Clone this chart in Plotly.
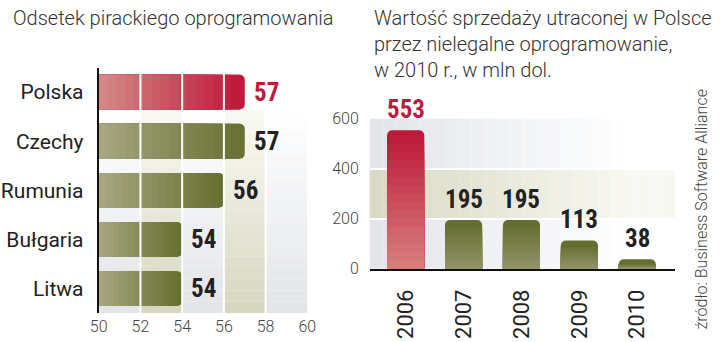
import plotly.graph_objects as go

# ---------------- data ----------------
countries = ["Polska", "Czechy", "Rumunia", "Bułgaria", "Litwa"]
piracy_pct = [57, 57, 56, 54, 54]
x_ticks = [50, 52, 54, 56, 58, 60]

years = ["2006", "2007", "2008", "2009", "2010"]
loss_musd = [553, 195, 195, 113, 38]
y_ticks = [0, 200, 400, 600]

title_left = "Odsetek pirackiego oprogramowania"
title_right = "Wartość sprzedaży utraconej w Polsce<br>przez nielegalne oprogramowanie,<br>w 2010 r., w mln dol."
source = "źródło: Business Software Alliance"

# ---------------- style ----------------
W, H = 720, 342
RED_LIGHT, RED_DARK = (212, 140, 136), (190, 24, 58)
OL_LIGHT, OL_DARK = (168, 168, 130), (104, 112, 50)
RED_LIGHT_V, RED_DARK_V = (216, 128, 128), (190, 24, 58)
OL_LIGHT_V, OL_DARK_V = (148, 148, 106), (100, 110, 48)
TXT = "#222222"
FONT = "Roboto, Open Sans, sans-serif"
NUMFONT = "Liberation Sans Narrow, Roboto Condensed, DejaVu Sans Condensed, Roboto, sans-serif"
NSEG = 16
RADIUS = 5


def lerp(c1, c2, t):
    return "rgb(%d,%d,%d)" % tuple(round(a + (b - a) * t) for a, b in zip(c1, c2))


def px_x(p):
    return p / W


def px_y(p):
    return 1 - p / H


# domains (pixels)
LX0, LX1, LY0, LY1 = 92, 306, 62, 322
RX0, RX1, RY0, RY1 = 370, 683, 116, 275
# size of the rounded end in data units (so the gradient does not hide the rounding)
r_left = RADIUS * (x_ticks[-1] - x_ticks[0]) / (LX1 - LX0)
r_right = RADIUS * (y_ticks[-1] - y_ticks[0]) / (RY1 - RY0)

fig = go.Figure()
axis_min = x_ticks[0]

# ---------- left chart: horizontal bars, gradient by overlaid shorter bars ----------
fig.add_trace(go.Bar(
    y=countries, x=[v - axis_min for v in piracy_pct], base=axis_min, orientation="h",
    xaxis="x", yaxis="y", width=0.71,
    marker=dict(color=[lerp(*((RED_LIGHT, RED_DARK) if c == "Polska" else (OL_LIGHT, OL_DARK)), 1.0)
                       for c in countries], line=dict(width=0), cornerradius=RADIUS),
    hoverinfo="skip", showlegend=False,
))
for k in range(NSEG):
    frac = (NSEG - k) / NSEG
    t = (NSEG - k - 0.5) / NSEG
    lens, cols = [], []
    for c, v in zip(countries, piracy_pct):
        lens.append((v - axis_min - r_left) * frac)
        lo, hi = (RED_LIGHT, RED_DARK) if c == "Polska" else (OL_LIGHT, OL_DARK)
        cols.append(lerp(lo, hi, t))
    fig.add_trace(go.Bar(
        y=countries, x=lens, base=axis_min, orientation="h", xaxis="x", yaxis="y",
        width=0.71, marker=dict(color=cols, line=dict(width=0), cornerradius=0),
        hoverinfo="skip", showlegend=False,
    ))

# ---------- right chart: vertical bars with gradient ----------
fig.add_trace(go.Bar(
    x=years, y=loss_musd, xaxis="x2", yaxis="y2", width=0.64,
    marker=dict(color=[lerp(*((RED_LIGHT_V, RED_DARK_V) if i == 0 else (OL_LIGHT_V, OL_DARK_V)), 1.0)
                       for i in range(len(years))], line=dict(width=0), cornerradius=RADIUS),
    hoverinfo="skip", showlegend=False,
))
for k in range(NSEG):
    frac = (NSEG - k) / NSEG
    t = (NSEG - k - 0.5) / NSEG
    hs, cols = [], []
    for i, v in enumerate(loss_musd):
        hs.append((v - r_right) * frac)
        lo, hi = (RED_LIGHT_V, RED_DARK_V) if i == 0 else (OL_LIGHT_V, OL_DARK_V)
        cols.append(lerp(lo, hi, t))
    fig.add_trace(go.Bar(
        x=years, y=hs, xaxis="x2", yaxis="y2", width=0.64,
        marker=dict(color=cols, line=dict(width=0), cornerradius=0),
        hoverinfo="skip", showlegend=False,
    ))

shapes = []
# left background: vertical gradient, grey + beige columns
NS = 18
y_top, y_bot = 0.36, 4.5
GREY_BOT, BEIGE_BOT = (226, 228, 232), (214, 214, 192)
WHITE = (255, 255, 255)
for s in range(NS):
    y0 = y_top + (y_bot - y_top) * s / NS
    y1 = y_top + (y_bot - y_top) * (s + 1) / NS
    t = (s + 0.5) / NS
    shapes.append(dict(type="rect", xref="x", yref="y", x0=x_ticks[0], x1=x_ticks[-1],
                       y0=y0, y1=y1, line_width=0, fillcolor=lerp(WHITE, GREY_BOT, t),
                       layer="below"))
    for a, b in [(x_ticks[1], x_ticks[2]), (x_ticks[3], x_ticks[4])]:
        shapes.append(dict(type="rect", xref="x", yref="y", x0=a, x1=b,
                           y0=y0, y1=y1, line_width=0,
                           fillcolor=lerp((250, 250, 244), BEIGE_BOT, t), layer="below"))
# white vertical grid lines above the bars
for xv in x_ticks[1:-1]:
    shapes.append(dict(type="line", xref="x", yref="y domain", x0=xv, x1=xv, y0=0, y1=1,
                       line=dict(color="white", width=2), layer="above"))

# right background: horizontal gradient grey, beige band 200-400
NR = 24
GREY_L = (226, 228, 233)
BEIGE_L = (216, 216, 196)
for s in range(NR):
    x0 = s / NR
    x1 = (s + 1) / NR
    t = min(1.0, (s + 0.5) / NR / 0.85)
    shapes.append(dict(type="rect", xref="x2 domain", yref="y2", x0=x0, x1=x1,
                       y0=y_ticks[0], y1=y_ticks[-1], line_width=0,
                       fillcolor=lerp(GREY_L, WHITE, t), layer="below"))
    shapes.append(dict(type="rect", xref="x2 domain", yref="y2", x0=x0, x1=x1,
                       y0=y_ticks[1], y1=y_ticks[2], line_width=0,
                       fillcolor=lerp(BEIGE_L, (248, 248, 242), t), layer="below"))

annotations = []
for c, v in zip(countries, piracy_pct):
    annotations.append(dict(x=v, y=c, xref="x", yref="y", text="<b>%d</b>" % v,
                            showarrow=False, xanchor="left", yanchor="middle", xshift=7,
                            font=dict(family=NUMFONT, size=25,
                                      color="#be1a3c" if c == "Polska" else TXT)))
for i, v in enumerate(loss_musd):
    annotations.append(dict(x=i, y=v, xref="x2", yref="y2", text="<b>%d</b>" % v,
                            showarrow=False, xanchor="center", yanchor="bottom", yshift=4,
                            font=dict(family=NUMFONT, size=25,
                                      color="#be1a3c" if i == 0 else TXT)))

annotations.append(dict(x=px_x(2), y=1.0, xref="paper", yref="paper", text=title_left,
                        showarrow=False, xanchor="left", yanchor="top", align="left",
                        yshift=5,
                        font=dict(family=FONT, size=20, color="#333333", weight=300)))
annotations.append(dict(x=px_x(372), y=1.0, xref="paper", yref="paper", text=title_right,
                        showarrow=False, xanchor="left", yanchor="top", align="left",
                        yshift=5,
                        font=dict(family=FONT, size=20, color="#333333", weight=300)))
annotations.append(dict(x=px_x(710), y=px_y(212), xref="paper", yref="paper", text=source,
                        showarrow=False, textangle=-90, xanchor="center", yanchor="middle",
                        font=dict(family=FONT, size=16, color="#444444", weight=300)))

fig.update_layout(
    width=W, height=H, margin=dict(l=0, r=0, t=0, b=0),
    paper_bgcolor="white", plot_bgcolor="rgba(0,0,0,0)",
    barmode="overlay",
    showlegend=False,
    shapes=shapes, annotations=annotations,
    xaxis=dict(domain=[px_x(LX0), px_x(LX1)], range=[x_ticks[0], x_ticks[-1]],
               tickvals=x_ticks, showgrid=False, zeroline=False, showline=False,
               ticks="", ticklabelstandoff=2, anchor="y",
               tickfont=dict(family=FONT, size=16, color="#444444", weight=300)),
    yaxis=dict(domain=[px_y(LY1), px_y(LY0)], type="category", categoryarray=countries,
               range=[len(countries) - 0.5, -0.5], showgrid=False, zeroline=False,
               showline=True, linecolor="#111111", linewidth=2, ticks="",
               ticklabelstandoff=9, anchor="x",
               tickfont=dict(family=FONT, size=21, color=TXT)),
    xaxis2=dict(domain=[px_x(RX0), px_x(RX1)], type="category", categoryarray=years,
                range=[-0.62, 4.65], anchor="y2", showgrid=False, zeroline=False,
                showline=True, linecolor="#111111", linewidth=2, ticks="",
                tickangle=-90, ticklabelstandoff=10,
                tickfont=dict(family=FONT, size=22, color=TXT)),
    yaxis2=dict(domain=[px_y(RY1), px_y(RY0)], range=[y_ticks[0], y_ticks[-1]],
                tickvals=y_ticks, anchor="x2", showgrid=True, gridcolor="white",
                gridwidth=2, zeroline=False, showline=False, ticks="",
                ticklabelstandoff=10,
                tickfont=dict(family=FONT, size=16, color="#444444", weight=300)),
)

fig.write_html("out.html")
